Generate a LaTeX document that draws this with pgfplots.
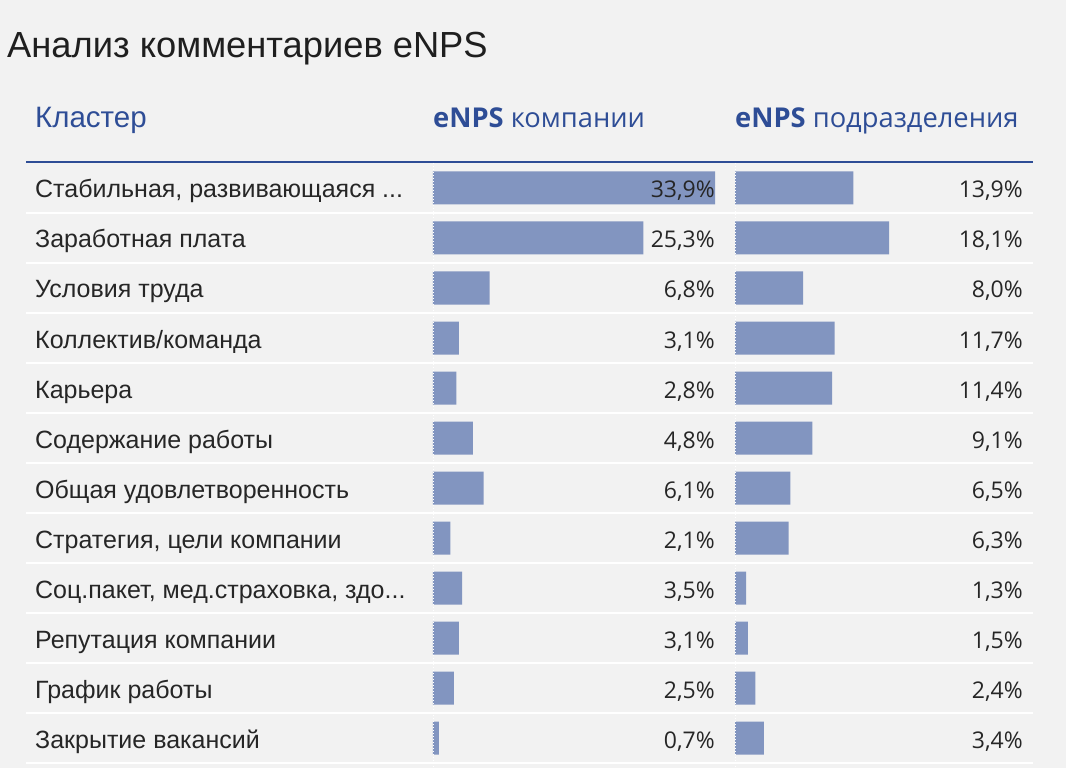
\documentclass[border=0pt]{standalone}
\usepackage{pgfplots}
\pgfplotsset{compat=1.18}
\usepackage{pgfplotstable}
\usepackage{fontspec}
\setmainfont{Liberation Sans}
\newfontfamily\numfont{Open Sans}
\definecolor{bg}{HTML}{F2F2F2}
\definecolor{barc}{HTML}{8295C0}
\definecolor{hdr}{HTML}{2E4D96}
\definecolor{txt}{HTML}{262626}
\def\tdots{...}

\pgfplotstableread{
idx a b
1 33.9 13.9
2 25.3 18.1
3 6.8 8.0
4 3.1 11.7
5 2.8 11.4
6 4.8 9.1
7 6.1 6.5
8 2.1 6.3
9 3.5 1.3
10 3.1 1.5
11 2.5 2.4
12 0.7 3.4
}\datatable

\pgfplotsset{
  rowaxis/.style={
    scale only axis, height=600pt, ymin=0.5, ymax=12.5, y dir=reverse,
    xmin=0, axis line style={draw=none}, major tick length=0pt,
    xtick=\empty, clip=false,
  },
  valnodes/.style={
    draw=none, mark=none, point meta=explicit,
    nodes near coords={\numfont\pgfmathprintnumber[fixed, fixed zerofill, precision=1, use comma, assume math mode=true]{\pgfplotspointmeta}\%},
    every node near coord/.append style={anchor=base east, inner sep=0pt, yshift=-10pt, text=txt, font=\fontsize{23}{27}\selectfont},
  },
}

\begin{document}
\begin{tikzpicture}[x=1pt,y=1pt]
\fill[bg] (0,0) rectangle (1066,768);
\foreach \k in {1,2,3,4,5,6,7,8,9,10,11,12} {
  \draw[white, line width=2.5pt] (26,{605-50*\k}) -- (1033,{605-50*\k});
}
\draw[hdr, line width=2.5pt] (26,606) -- (1033,606);

\node[anchor=base west, inner sep=0pt, text=black!88, font=\fontsize{36.3}{40}\selectfont] at (7,710) {Анализ комментариев eNPS};
\node[anchor=base west, inner sep=0pt, text=hdr, font=\fontsize{29.5}{32}\selectfont] at (35,640) {Кластер};
\node[anchor=base west, inner sep=0pt, text=hdr, font=\numfont\fontsize{27.3}{30}\selectfont] at (433,640) {\textbf{eNPS} компании};
\node[anchor=base west, inner sep=0pt, text=hdr, font=\numfont\fontsize{27.3}{30}\selectfont] at (735,640) {\textbf{eNPS} подразделения};

\begin{axis}[rowaxis, width=282pt, xmax=33.9, at={(433pt,5pt)}, anchor=south west,
  ytick={1,2,3,4,5,6,7,8,9,10,11,12},
  yticklabels={{Стабильная, развивающаяся \tdots},{Заработная плата},{Условия труда},{Коллектив/команда},{Карьера},{Содержание работы},{Общая удовлетворенность},{Стратегия, цели компании},{Соц.пакет, мед.страховка, здо\tdots},{Репутация компании},{График работы},{Закрытие вакансий}},
  yticklabel style={anchor=base west, xshift=-398pt, yshift=-10pt, inner sep=0pt, text=txt, font=\fontsize{25}{28}\selectfont},
]
\addplot[xbar, bar width=33pt, bar shift=0pt, fill=barc, draw=none] table[x=a, y=idx]{\datatable};
\addplot[valnodes] table[x expr=33.9, y=idx, meta=a]{\datatable};
\end{axis}

\begin{axis}[rowaxis, width=288pt, xmax=33.84, at={(735pt,5pt)}, anchor=south west, ytick=\empty]
\addplot[xbar, bar width=33pt, bar shift=0pt, fill=barc, draw=none] table[x=b, y=idx]{\datatable};
\addplot[valnodes] table[x expr=33.84, y=idx, meta=b]{\datatable};
\end{axis}

\draw[white, line width=1pt, dash pattern=on 1.5pt off 1.5pt] (433,605) -- (433,0);
\draw[white, line width=1pt, dash pattern=on 1.5pt off 1.5pt] (735,605) -- (735,0);
\pgfresetboundingbox
\path (0,0) rectangle (1066,768);
\end{tikzpicture}
\end{document}
